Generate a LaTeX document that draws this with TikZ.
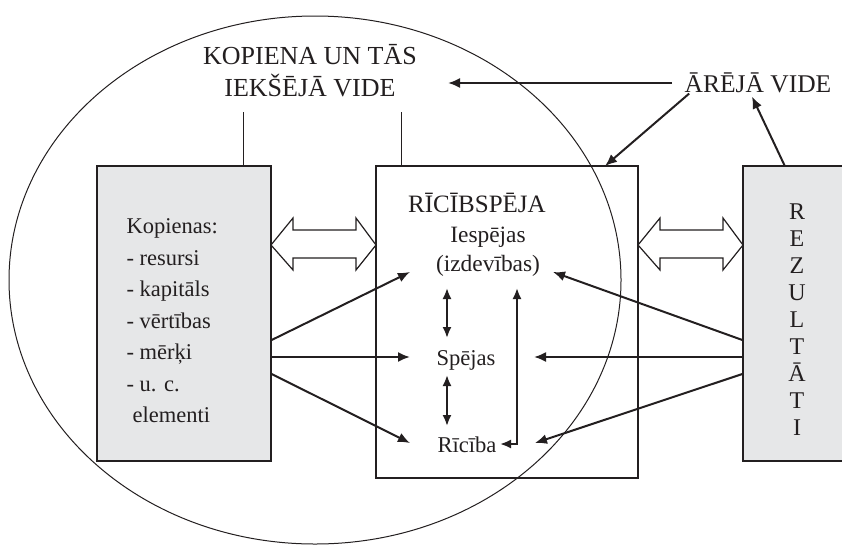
\documentclass[tikz,border=0pt]{standalone}
\usepackage{fontspec}
\setmainfont{Liberation Serif}
\usetikzlibrary{arrows.meta}
\definecolor{boxgray}{RGB}{230,231,232}
\definecolor{ink}{RGB}{35,31,32}

\begin{document}
\begin{tikzpicture}[x=1pt, y=-1pt,
    every node/.style={text=ink},
    box/.style={draw=ink, line width=1.3pt, inner sep=0pt},
    arr/.style={-{Latex[length=12pt,width=10pt]}, line width=2pt, draw=ink},
    darr/.style={{Latex[length=11pt,width=9pt]}-{Latex[length=11pt,width=9pt]}, line width=2pt, draw=ink},
    hollow/.style={draw=ink, line width=1.2pt, fill=white}]
  \useasboundingbox (0,0) rectangle (842,544);

  % community and its inner environment
  \draw [ink, line width=1pt] (315,280) ellipse [x radius=306pt, y radius=264pt];

  \node (kop) [box, fill=boxgray, minimum width=174pt, minimum height=295pt] at (184,313.5) {};
  \node (mid) [box, minimum width=262pt, minimum height=312pt] at (507,322) {};
  \node (rez) [box, fill=boxgray, minimum width=117pt, minimum height=295pt] at (801.5,313.5) {};

  \node (vide) [align=center, font=\fontsize{26}{32}\selectfont] at (310,71) {KOPIENA UN TĀS\\IEKŠĒJĀ VIDE};
  \node (are) [font=\fontsize{25.5}{28}\selectfont] at (758,83) {ĀRĒJĀ VIDE};

  \node (kopt) [anchor=west, align=left, font=\fontsize{22.5}{31.5}\selectfont] at (123,321)
    {Kopienas:\\- resursi\\- kapitāls\\- vērtības\\- mērķi\\- u. c.\\\hspace*{6pt}elementi};
  \node (rezt) [align=center, font=\fontsize{24}{27}\selectfont] at (797,320)
    {R\\E\\Z\\U\\L\\T\\Ā\\T\\I};

  \node (ricsp) [font=\fontsize{25}{28}\selectfont] at (477,203) {RĪCĪBSPĒJA};
  \node (iesp) [align=center, font=\fontsize{23.4}{29}\selectfont] at (488,252) {Iespējas\\(izdevības)};
  \node (spej) [font=\fontsize{22.6}{28}\selectfont] at (466,360) {Spējas};
  \node (rici) [font=\fontsize{22.6}{28}\selectfont] at (467,445) {Rīcība};

  % arrow ends
  \coordinate (videR) at (448,83);
  \coordinate (midT) at (605,166);
  \coordinate (iespL) at (410,272);
  \coordinate (spejL) at (410,357);
  \coordinate (riciL) at (410,443);
  \coordinate (iespR) at (553,272);
  \coordinate (spejR) at (534,357);
  \coordinate (riciR) at (535,443);

  % stems
  \draw [ink, line width=1pt] ([xshift=59pt]kop.north) -- ++(0,-53);
  \draw [ink, line width=1pt] ([xshift=-106pt]mid.north) -- ++(0,-53);

  % outer environment
  \draw [arr] ([xshift=-9pt]are.west) -- (videR);
  \draw [arr] ([xshift=8pt, yshift=3pt]are.south west) -- (midT);
  \draw [arr] ([xshift=-17pt]rez.north) -- ([xshift=-6pt]are.south);

  % hollow double arrows
  \draw [hollow] (271,245) -- (293,218) -- (293,230) -- (356,230) -- (356,218) -- (376,245)
    -- (356,270) -- (356,258) -- (293,258) -- (293,270) -- cycle;
  \draw [hollow] (638,245) -- (660,218) -- (660,230) -- (723,230) -- (723,218) -- (743,245)
    -- (723,270) -- (723,258) -- (660,258) -- (660,270) -- cycle;

  \draw [arr] ([yshift=-26.5pt]kop.east) -- (iespL);
  \draw [arr] ([yshift=-43.5pt]kop.east) -- (spejL);
  \draw [arr] ([yshift=-60.5pt]kop.east) -- (riciL);
  \draw [arr] ([yshift=-26.5pt]rez.west) -- (iespR);
  \draw [arr] ([yshift=-43.5pt]rez.west) -- (spejR);
  \draw [arr] ([yshift=-60.5pt]rez.west) -- (riciR);

  \draw [darr] (447,288) -- (447,338);
  \draw [darr] (447,375) -- (447,426);
  \draw [darr] (500,444) -| (517,288);
\end{tikzpicture}
\end{document}
